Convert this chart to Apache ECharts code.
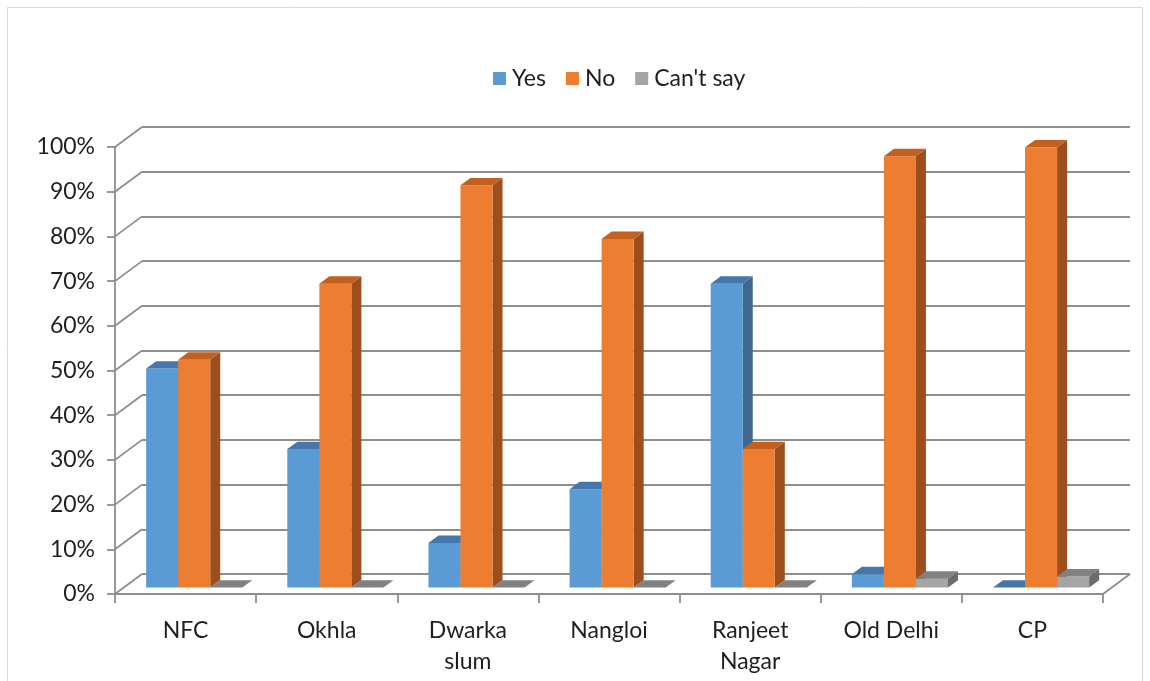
<!DOCTYPE html>
<html>
<head>
<meta charset="utf-8">
<script src="https://cdn.jsdelivr.net/npm/echarts@6/dist/echarts.min.js"></script>
<style>
  html, body { margin: 0; padding: 0; background: #ffffff; }
  #chart { width: 1150px; height: 681px; }
</style>
</head>
<body>
<div id="chart"></div>
<script>
// Survey responses by locality (share of respondents)
const categories = ['NFC', 'Okhla', 'Dwarka\nslum', 'Nangloi', 'Ranjeet\nNagar', 'Old Delhi', 'CP'];
const yesValues = [49, 31, 10, 22, 68, 3, 0];
const noValues = [51, 68, 90, 78, 31, 96.5, 98.5];
const cantSayValues = [0, 0, 0, 0, 0, 2, 2.5];
const yTicks = [0, 10, 20, 30, 40, 50, 60, 70, 80, 90, 100];

// Oblique projection of the chart "room": full depth shift of the back wall
const DEPTH_X = 27, DEPTH_Y = -20;
// Bars sit between these two depth fractions
const F0 = 0.32, F1 = 0.69;
// Width of each bar relative to the category band
const BAR_FRAC = 0.227;

const FONT = 'Lato, "Open Sans", sans-serif';
const FONT_SIZE = 23;
const TEXT = '#1F1F1F';
const GRID_LINE = '#8E8E8E';

const palette = {
  yes: { front: '#5B9BD5', top: '#4677AA', side: '#3D6890' },
  no: { front: '#ED7D31', top: '#C2611F', side: '#9C4E1C' },
  cant: { front: '#A5A5A5', top: '#818181', side: '#6C6C6C' }
};

function barRenderer(slot, c) {
  return function (params, api) {
    const ci = api.value(0), v = api.value(1);
    const base = api.coord([ci, 0]);
    const top = api.coord([ci, v]);
    const band = api.size([1, 0])[0];
    const bw = band * BAR_FRAC;
    const x0 = base[0] - 1.5 * bw + slot * bw + DEPTH_X * F0;
    const yb = base[1] + DEPTH_Y * F0;
    const yt = top[1] + DEPTH_Y * F0;
    const dx = DEPTH_X * (F1 - F0), dy = DEPTH_Y * (F1 - F0);
    return {
      type: 'group',
      children: [
        { type: 'polygon', shape: { points: [[x0 + bw, yt], [x0 + bw + dx, yt + dy], [x0 + bw + dx, yb + dy], [x0 + bw, yb]] }, style: { fill: c.side } },
        { type: 'rect', shape: { x: x0, y: yt, width: bw, height: yb - yt }, style: { fill: c.front } },
        { type: 'polygon', shape: { points: [[x0, yt], [x0 + bw, yt], [x0 + bw + dx, yt + dy], [x0 + dx, yt + dy]] }, style: { fill: c.top } }
      ]
    };
  };
}

// Side wall edges linking the front value axis to the back wall grid lines,
// plus the right edge of the floor
function frameRenderer(params, api) {
  const v = api.value(1);
  const band = api.size([1, 0])[0];
  const p = api.coord([0, v]);
  const xl = p[0] - band / 2;
  const children = [
    { type: 'line', shape: { x1: xl, y1: p[1], x2: xl + DEPTH_X, y2: p[1] + DEPTH_Y }, style: { stroke: GRID_LINE, lineWidth: 1.8 } }
  ];
  if (v === 0) {
    const q = api.coord([categories.length - 1, 0]);
    const xr = q[0] + band / 2;
    children.push({ type: 'line', shape: { x1: xr, y1: q[1], x2: xr + DEPTH_X, y2: q[1] + DEPTH_Y }, style: { stroke: GRID_LINE, lineWidth: 1.8 } });
  }
  return { type: 'group', children: children };
}

const chart = echarts.init(document.getElementById('chart'), null, { renderer: 'canvas' });

chart.setOption({
  backgroundColor: '#ffffff',
  animation: false,
  textStyle: { fontFamily: FONT },
  graphic: [
    { type: 'rect', shape: { x: 7.5, y: 7.5, width: 1135, height: 700 }, style: { fill: 'none', stroke: '#D9D9D9', lineWidth: 1 }, silent: true, z: -10 }
  ],
  legend: {
    left: 488,
    top: 62,
    icon: 'rect',
    itemWidth: 13,
    itemHeight: 13,
    itemGap: 20,
    textStyle: { fontFamily: FONT, fontSize: FONT_SIZE, color: TEXT, padding: [0, 0, 0, 1] },
    data: ['Yes', 'No', "Can't say"]
  },
  grid: [
    { left: 115, top: 147, width: 988, height: 447, containLabel: false },
    { left: 115 + DEPTH_X, top: 147 + DEPTH_Y, width: 988, height: 447, containLabel: false }
  ],
  xAxis: [
    {
      type: 'category',
      gridIndex: 0,
      data: categories,
      boundaryGap: true,
      axisLine: { lineStyle: { color: GRID_LINE, width: 1.8 } },
      axisTick: { show: true, length: 9, lineStyle: { color: GRID_LINE, width: 1.8 } },
      axisLabel: { fontFamily: FONT, fontSize: FONT_SIZE, color: TEXT, margin: 21, lineHeight: 31, interval: 0 },
      splitLine: { show: false }
    },
    {
      type: 'category',
      gridIndex: 1,
      data: categories,
      show: false
    }
  ],
  yAxis: [
    {
      type: 'value',
      gridIndex: 0,
      min: 0,
      max: 100,
      interval: 10,
      axisLine: { show: true, lineStyle: { color: GRID_LINE, width: 1.8 } },
      axisTick: { show: true, length: 8, lineStyle: { color: GRID_LINE, width: 1.8 } },
      axisLabel: { formatter: '{value}%', fontFamily: FONT, fontSize: FONT_SIZE, color: TEXT, margin: 20 },
      splitLine: { show: false }
    },
    {
      type: 'value',
      gridIndex: 1,
      min: 0,
      max: 100,
      interval: 10,
      axisLine: { show: false },
      axisTick: { show: false },
      axisLabel: { show: false },
      splitLine: { show: true, lineStyle: { color: GRID_LINE, width: 1.8 } }
    }
  ],
  series: [
    {
      name: 'frame',
      type: 'custom',
      xAxisIndex: 0,
      yAxisIndex: 0,
      z: 1,
      silent: true,
      renderItem: frameRenderer,
      encode: { x: 0, y: 1 },
      data: yTicks.map(function (v) { return [0, v]; })
    },
    {
      name: 'Yes',
      type: 'custom',
      xAxisIndex: 0,
      yAxisIndex: 0,
      z: 3,
      itemStyle: { color: palette.yes.front },
      renderItem: barRenderer(0, palette.yes),
      encode: { x: 0, y: 1 },
      data: yesValues.map(function (v, i) { return [i, v]; })
    },
    {
      name: 'No',
      type: 'custom',
      xAxisIndex: 0,
      yAxisIndex: 0,
      z: 3,
      itemStyle: { color: palette.no.front },
      renderItem: barRenderer(1, palette.no),
      encode: { x: 0, y: 1 },
      data: noValues.map(function (v, i) { return [i, v]; })
    },
    {
      name: "Can't say",
      type: 'custom',
      xAxisIndex: 0,
      yAxisIndex: 0,
      z: 3,
      itemStyle: { color: palette.cant.front },
      renderItem: barRenderer(2, palette.cant),
      encode: { x: 0, y: 1 },
      data: cantSayValues.map(function (v, i) { return [i, v]; })
    }
  ]
});
</script>
</body>
</html>
